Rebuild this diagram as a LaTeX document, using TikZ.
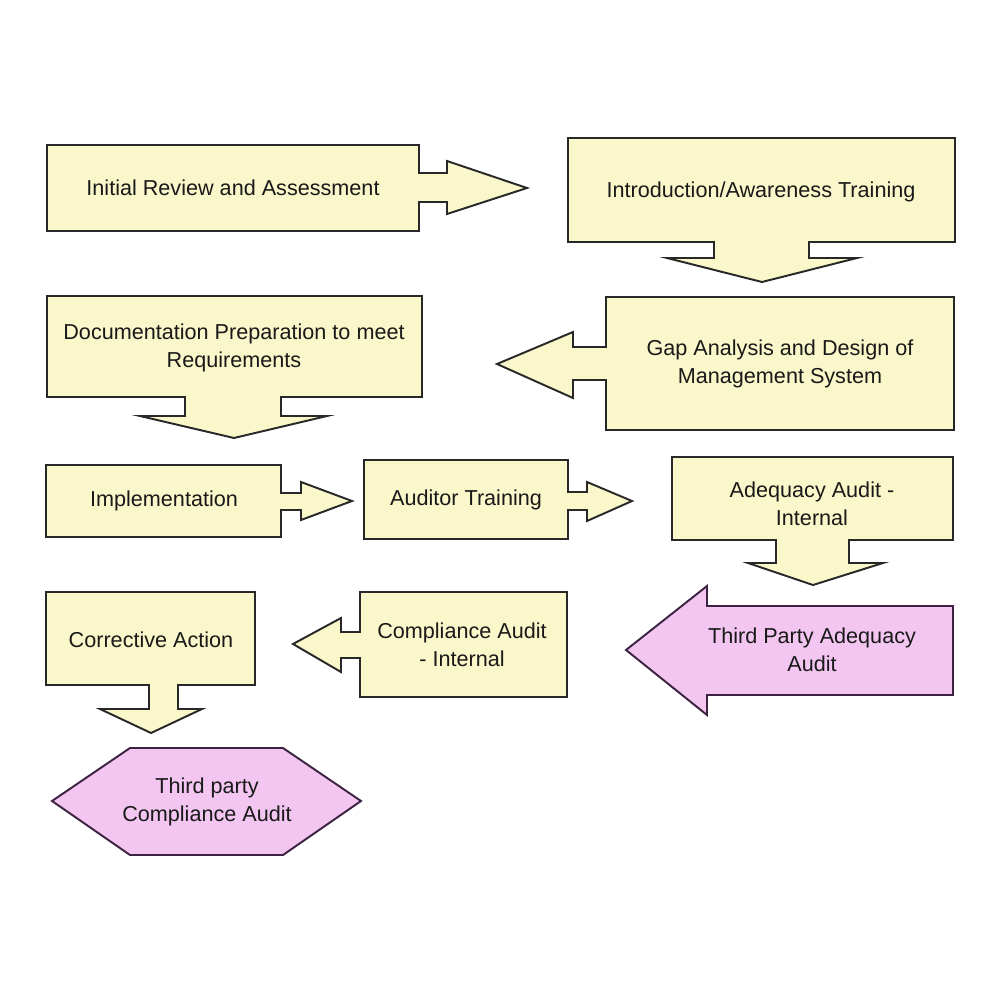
\documentclass[tikz,border=0pt]{standalone}
\usepackage{fontspec}
\setmainfont{Liberation Sans}
\definecolor{boxfill}{RGB}{250,247,202}
\definecolor{boxline}{RGB}{40,40,40}
\definecolor{pinkfill}{RGB}{242,198,240}
\definecolor{pinkline}{RGB}{60,35,65}
\tikzset{
  ybox/.style={fill=boxfill, draw=boxline, line width=1.1pt, line join=miter},
  pbox/.style={fill=pinkfill, draw=pinkline, line width=1.1pt, line join=miter},
  lbl/.style={align=center, font=\fontsize{12.3}{16}\selectfont, text=black!90, inner sep=0pt}
}
\begin{document}
\begin{tikzpicture}[x=0.2mm, y=-0.2mm]
\useasboundingbox[fill=white] (0,0) rectangle (1000,1000);
% 1 Initial Review
\draw[ybox] (47,145) -- (419,145) -- (419,173) -- (447,173) -- (447,161) -- (527,188) -- (447,214) -- (447,202) -- (419,202) -- (419,231) -- (47,231) -- cycle;
\node[lbl] (t1) at (233,188) {Initial Review and Assessment};
% 2 Introduction
\draw[ybox] (568,138) -- (955,138) -- (955,242) -- (809,242) -- (809,258) -- (857,258) -- (762,282) -- (667,258) -- (714,258) -- (714,242) -- (568,242) -- cycle;
\node[lbl] (t2) at (761,192) {Introduction/Awareness Training};
% 3 Documentation
\draw[ybox] (47,296) -- (422,296) -- (422,397) -- (281,397) -- (281,416) -- (327,416) -- (234,438) -- (140,416) -- (185,416) -- (185,397) -- (47,397) -- cycle;
\node[lbl] (t3) at (234,348) {Documentation Preparation to meet\\Requirements};
% 4 Gap analysis
\draw[ybox] (606,297) -- (954,297) -- (954,430) -- (606,430) -- (606,380) -- (573,380) -- (573,398) -- (497,364) -- (573,332) -- (573,347) -- (606,347) -- cycle;
\node[lbl] (t4) at (780,364) {Gap Analysis and Design of\\Management System};
% 5 Implementation
\draw[ybox] (46,465) -- (281,465) -- (281,493) -- (301,493) -- (301,482) -- (352,501) -- (301,520) -- (301,510) -- (281,510) -- (281,537) -- (46,537) -- cycle;
\node[lbl] (t5) at (164,501) {Implementation};
% 6 Auditor training
\draw[ybox] (364,460) -- (568,460) -- (568,492) -- (587,492) -- (587,482) -- (632,501) -- (587,521) -- (587,510) -- (568,510) -- (568,539) -- (364,539) -- cycle;
\node[lbl] (t6) at (466,500) {Auditor Training};
% 7 Adequacy audit internal
\draw[ybox] (672,457) -- (953,457) -- (953,540) -- (849,540) -- (849,563) -- (883,563) -- (813,585) -- (748,563) -- (776,563) -- (776,540) -- (672,540) -- cycle;
\node[lbl] (t7) at (812,504) {Adequacy Audit -\\Internal};
% 8 Third party adequacy audit
\draw[pbox] (707,606) -- (953,606) -- (953,695) -- (707,695) -- (707,715) -- (626,650) -- (707,586) -- cycle;
\node[lbl] (t8) at (812,650) {Third Party Adequacy\\Audit};
% 9 Compliance audit internal
\draw[ybox] (360,592) -- (567,592) -- (567,697) -- (360,697) -- (360,658) -- (341,658) -- (341,672) -- (293,644) -- (341,618) -- (341,632) -- (360,632) -- cycle;
\node[lbl] (t9) at (462,645) {Compliance Audit\\- Internal};
% 10 Corrective action
\draw[ybox] (46,592) -- (255,592) -- (255,685) -- (178,685) -- (178,709) -- (202,709) -- (151,733) -- (100,709) -- (149,709) -- (149,685) -- (46,685) -- cycle;
\node[lbl] (t10) at (151,640) {Corrective Action};
% 11 Third party compliance audit
\draw[pbox] (52,801) -- (130,748) -- (283,748) -- (361,801) -- (283,855) -- (130,855) -- cycle;
\node[lbl] (t11) at (207,802) {Third party\\Compliance Audit};
\end{tikzpicture}
\end{document}
